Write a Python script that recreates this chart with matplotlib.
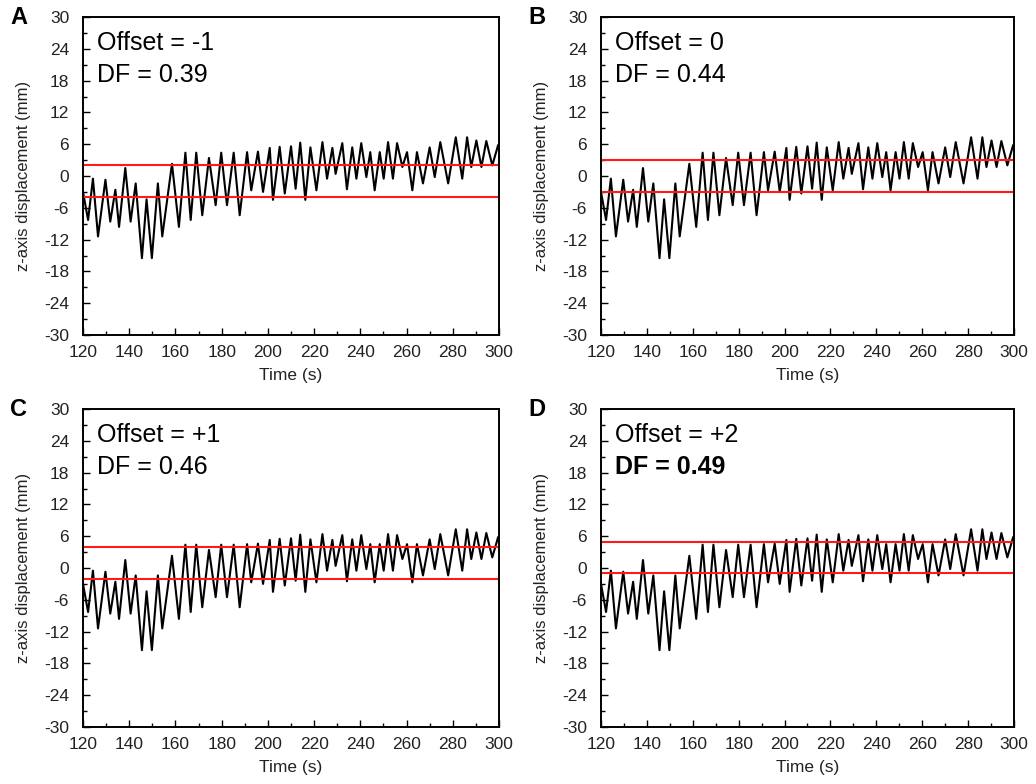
import numpy as np
import matplotlib.pyplot as plt
from matplotlib.ticker import MultipleLocator

plt.rcParams['font.family'] = ['Liberation Sans', 'DejaVu Sans']
plt.rcParams['axes.unicode_minus'] = False

# peaks and troughs of the z-axis trace (same trace in all panels)
time_s = [120.0, 122.2, 124.3, 126.5, 129.7, 131.8, 134.0, 135.6, 138.3, 140.6,
          142.8, 145.5, 147.5, 149.8, 152.4, 154.3, 158.5, 161.5, 164.3, 166.6,
          169.0, 171.6, 174.5, 177.4, 179.8, 182.3, 185.2, 187.8, 191.0, 192.8,
          195.7, 197.9, 200.8, 202.2, 205.1, 207.3, 210.0, 212.0, 214.0, 216.2,
          218.4, 221.0, 223.6, 225.6, 227.9, 229.3, 232.2, 234.2, 236.5, 238.3,
          240.4, 242.6, 244.3, 246.2, 248.4, 250.1, 252.0, 254.1, 255.9, 258.2,
          260.2, 262.5, 264.5, 267.1, 270.0, 272.2, 274.6, 278.0, 281.3, 284.1,
          286.2, 288.0, 290.2, 292.4, 294.5, 297.1, 299.6, 300.0]
z_mm = [-3.0, -8.3, -0.5, -11.4, -0.7, -8.6, -2.6, -9.6, 1.5, -8.6,
        -1.4, -15.5, -4.4, -15.5, -1.4, -11.4, 2.3, -9.6, 4.4, -8.3,
        4.4, -7.4, 3.4, -5.5, 4.4, -5.5, 4.4, -7.4, 4.5, -2.7,
        4.6, -3.0, 5.3, -4.5, 5.5, -3.3, 5.6, -2.4, 6.3, -4.5,
        5.4, -2.7, 6.4, -0.5, 5.3, 0.4, 6.2, -2.5, 5.4, -0.5,
        6.2, -0.2, 4.5, -2.7, 4.5, -0.5, 6.4, -0.5, 6.2, 1.7,
        4.5, -2.7, 4.5, -1.4, 5.4, -0.2, 6.4, -1.4, 7.3, -0.5,
        7.3, 1.7, 6.7, 1.7, 6.6, 2.0, 5.8, 6.0]

letters = ['A', 'B', 'C', 'D']
offsets = ['-1', '0', '+1', '+2']
df_values = ['0.39', '0.44', '0.46', '0.49']
upper_line = [2, 3, 4, 5]
lower_line = [-4, -3, -2, -1]

W, H = 1036, 784
fig = plt.figure(figsize=(W / 100, H / 100), dpi=100)

# axes boxes in pixels: left, top, right, bottom
boxes = [(83, 17, 499, 335), (601, 17, 1014, 335),
         (83, 409, 499, 727), (601, 409, 1014, 727)]

for i, (l, t, r, b) in enumerate(boxes):
    ax = fig.add_axes([l / W, 1 - b / H, (r - l) / W, (b - t) / H])
    ax.plot(time_s, z_mm, color='black', lw=1.5, solid_joinstyle='round')
    ax.axhline(upper_line[i], color='#ff1a1a', lw=1.5)
    ax.axhline(lower_line[i], color='#ff1a1a', lw=1.5)

    ax.set_xlim(120, 300)
    ax.set_ylim(-30, 30)
    ax.xaxis.set_major_locator(MultipleLocator(20))
    ax.xaxis.set_minor_locator(MultipleLocator(10))
    ax.yaxis.set_major_locator(MultipleLocator(6))
    ax.yaxis.set_minor_locator(MultipleLocator(3))
    ax.tick_params(which='both', direction='in', top=False, right=False,
                   width=1.0, labelsize=12.5, labelcolor='#222222')
    ax.tick_params(axis='x', which='major', length=5, pad=7)
    ax.tick_params(axis='y', which='major', length=5, pad=10)
    ax.tick_params(which='minor', length=3)
    for s in ax.spines.values():
        s.set_linewidth(1.4)

    ax.set_xlabel('Time (s)', fontsize=12.5, labelpad=6, color='#222222')
    ax.set_ylabel('z-axis displacement (mm)', fontsize=12, labelpad=9,
                  color='#222222')

    ax.text(0.034, 0.918, f'Offset = {offsets[i]}', transform=ax.transAxes,
            fontsize=18, ha='left', va='center')
    ax.text(0.034, 0.818, f'DF = {df_values[i]}', transform=ax.transAxes,
            fontsize=18, ha='left', va='center',
            fontweight='bold' if i == 3 else 'normal')

    fig.text((l - 73) / W, 1 - (t + 1) / H, letters[i], fontsize=17,
             fontweight='bold', ha='left', va='center')

fig.savefig('out.png', dpi=100)
